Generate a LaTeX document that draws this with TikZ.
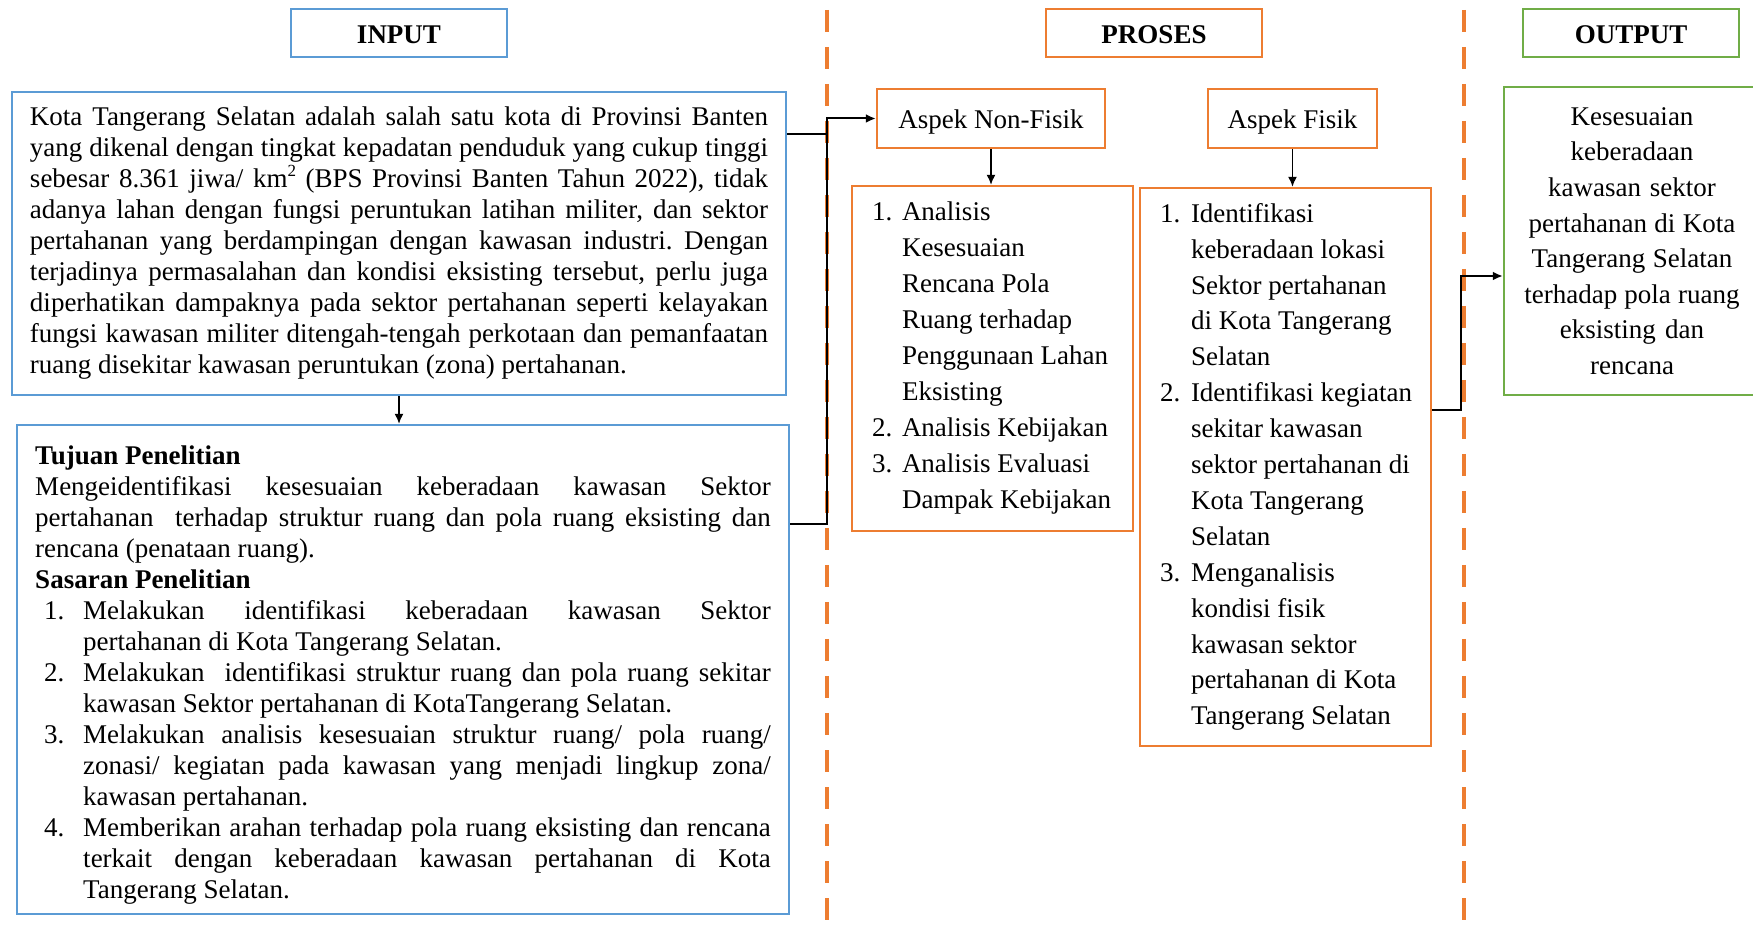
\documentclass[tikz,border=0pt]{standalone}
\usepackage{fontspec}
\setmainfont{Liberation Serif}[Ligatures=NoCommon]
\usetikzlibrary{arrows.meta}
\definecolor{cblue}{HTML}{5B9BD5}
\definecolor{corange}{HTML}{ED7D31}
\definecolor{cgreen}{HTML}{70AD47}
\frenchspacing
\newlength{\nind}
\newlength{\iind}
\newcommand{\natsp}{\spaceskip=0pt\xspaceskip=0pt\relax}
\newcommand{\jl}[1]{\makebox[\linewidth][s]{#1}}
\newcommand{\li}[2]{\hspace*{\nind}\makebox[\iind][l]{#1}\mbox{#2}}
\newcommand{\jli}[2]{\hspace*{\nind}\makebox[\iind][l]{#1}\makebox[\dimexpr\linewidth-\nind-\iind\relax][s]{#2}}
\newcommand{\lc}[1]{\hspace*{\dimexpr\nind+\iind\relax}\mbox{#1}}
\newcommand{\jlc}[1]{\hspace*{\dimexpr\nind+\iind\relax}\makebox[\dimexpr\linewidth-\nind-\iind\relax][s]{#1}}
\newcommand{\supt}[1]{\raisebox{0.42em}{\fontsize{8.5pt}{8.5pt}\selectfont #1}}
\begin{document}
\begin{tikzpicture}[x=1pt,y=-1pt,
  hdr/.style={draw, line width=1.2pt, minimum width=108pt, minimum height=24pt, inner sep=0pt,
    text height=11pt, text depth=0pt, font=\fontsize{13.5pt}{16pt}\selectfont\bfseries},
  bx/.style={draw, line width=1.2pt, inner ysep=0pt, align=left},
  aspek/.style={draw=corange, line width=1.2pt, minimum height=29.5pt, inner sep=0pt,
    text height=10.5pt, text depth=0pt, font=\fontsize{13.5pt}{16pt}\selectfont},
  dashline/.style={draw=corange, line width=2.4pt, dash pattern=on 11pt off 7.5pt},
  conn/.style={draw=black, line width=1pt},
  arr/.style={draw=black, line width=0.75pt, -{Latex[length=5pt,width=4.5pt]}}
]
\useasboundingbox (0,0) rectangle (876.5,467.5);

% dashed separators
\draw[dashline] (413.5,5) -- (413.5,467.5);
\draw[dashline] (732,5) -- (732,467.5);

% headers
\node[hdr, draw=cblue] (hin) at (199.5,16.5) {INPUT};
\node[hdr, draw=corange] (hpr) at (577,16.5) {PROSES};
\node[hdr, draw=cgreen] (hout) at (815.5,16.5) {OUTPUT};

% input box 1
\node[bx, draw=cblue, text width=369pt, inner xsep=9pt, minimum width=387pt, minimum height=151.5pt,
  font=\fontsize{13.5pt}{15.5pt}\selectfont] (b1) at (199.5,121.75) {\natsp
\jl{Kota Tangerang Selatan adalah salah satu kota di Provinsi Banten}\\
\jl{yang dikenal dengan tingkat kepadatan penduduk yang cukup tinggi}\\
\jl{sebesar 8.361 jiwa/ km\supt{2} (BPS Provinsi Banten Tahun 2022), tidak}\\
\jl{adanya lahan dengan fungsi peruntukan latihan militer, dan sektor}\\
\jl{pertahanan yang berdampingan dengan kawasan industri. Dengan}\\
\jl{terjadinya permasalahan dan kondisi eksisting tersebut, perlu juga}\\
\jl{diperhatikan dampaknya pada sektor pertahanan seperti kelayakan}\\
\jl{fungsi kawasan militer ditengah-tengah perkotaan dan pemanfaatan}\\
\mbox{ruang disekitar kawasan peruntukan (zona) pertahanan.}};

% input box 2
\node[bx, draw=cblue, text width=367.75pt, inner xsep=9.125pt, minimum width=386pt, minimum height=244.5pt,
  font=\fontsize{13.5pt}{15.5pt}\selectfont] (b2) at (201.5,334.75) {\natsp
\setlength{\nind}{4.5pt}\setlength{\iind}{19.5pt}%
\rule{0pt}{14.8pt}\textbf{Tujuan Penelitian}\\
\jl{Mengeidentifikasi kesesuaian keberadaan kawasan Sektor}\\
\jl{pertahanan\ \ terhadap struktur ruang dan pola ruang eksisting dan}\\
\mbox{rencana (penataan ruang).}\\
\textbf{Sasaran Penelitian}\\
\jli{1.}{Melakukan identifikasi keberadaan kawasan Sektor}\\
\lc{pertahanan di Kota Tangerang Selatan.}\\
\jli{2.}{Melakukan\ \ identifikasi struktur ruang dan pola ruang sekitar}\\
\lc{kawasan Sektor pertahanan di KotaTangerang Selatan.}\\
\jli{3.}{Melakukan analisis kesesuaian struktur ruang/ pola ruang/}\\
\jlc{zonasi/ kegiatan pada kawasan yang menjadi lingkup zona/}\\
\lc{kawasan pertahanan.}\\
\jli{4.}{Memberikan arahan terhadap pola ruang eksisting dan rencana}\\
\jlc{terkait dengan keberadaan kawasan pertahanan di Kota}\\
\lc{Tangerang Selatan.}};

% proses
\node[aspek, minimum width=114pt] (anf) at (495.5,59.25) {Aspek Non-Fisik};
\node[aspek, minimum width=84.5pt] (af) at (646.25,59.25) {Aspek Fisik};

\node[bx, draw=corange, text width=120.5pt, inner xsep=10pt, minimum width=140.5pt, minimum height=172.5pt,
  font=\fontsize{13.5pt}{18pt}\selectfont] (nfl) at (496.25,179.25) {\natsp
\setlength{\nind}{0pt}\setlength{\iind}{15pt}%
\li{1.}{Analisis}\\
\lc{Kesesuaian}\\
\lc{Rencana Pola}\\
\lc{Ruang terhadap}\\
\lc{Penggunaan Lahan}\\
\lc{Eksisting}\\
\li{2.}{Analisis Kebijakan}\\
\li{3.}{Analisis Evaluasi}\\
\lc{Dampak Kebijakan}};

\node[bx, draw=corange, text width=125.5pt, inner xsep=10pt, minimum width=145.5pt, minimum height=279pt,
  font=\fontsize{13.5pt}{17.95pt}\selectfont] (fl) at (642.75,233.5) {\natsp
\setlength{\nind}{0pt}\setlength{\iind}{15.5pt}%
\li{1.}{Identifikasi}\\
\lc{keberadaan lokasi}\\
\lc{Sektor pertahanan}\\
\lc{di Kota Tangerang}\\
\lc{Selatan}\\
\li{2.}{Identifikasi kegiatan}\\
\lc{sekitar kawasan}\\
\lc{sektor pertahanan di}\\
\lc{Kota Tangerang}\\
\lc{Selatan}\\
\li{3.}{Menganalisis}\\
\lc{kondisi fisik}\\
\lc{kawasan sektor}\\
\lc{pertahanan di Kota}\\
\lc{Tangerang Selatan}};

% output
\node[draw=cgreen, line width=1.2pt, text width=115pt, inner xsep=6.5pt, inner ysep=0pt, align=center,
  minimum width=128pt, minimum height=154pt, font=\fontsize{13.5pt}{17.8pt}\selectfont] (out) at (816,120.5) {\natsp
Kesesuaian\\ keberadaan\\ kawasan sektor\\ pertahanan di Kota\\ Tangerang Selatan\\ terhadap pola ruang\\ eksisting dan\\ rencana};

% connectors
\coordinate (j1a) at (413.5,67);
\coordinate (j1b) at (413.5,262);
\coordinate (j2a) at (730.5,205);
\coordinate (j2b) at (730.5,138);

\draw[arr] (b1.south) -- (b1.south |- b2.north);
\draw[conn] (b1.east |- j1a) -- (j1a);
\draw[conn, -{Latex[length=5pt,width=4.5pt]}] (b2.east |- j1b) -- (j1b) |- (anf.west);
\draw[arr] (anf.south) -- (anf.south |- nfl.north);
\draw[arr] (af.south) -- (af.south |- fl.north);
\draw[conn, -{Latex[length=5pt,width=4.5pt]}] (fl.east |- j2a) -- (j2a) |- (out.west |- j2b);
\end{tikzpicture}
\end{document}
